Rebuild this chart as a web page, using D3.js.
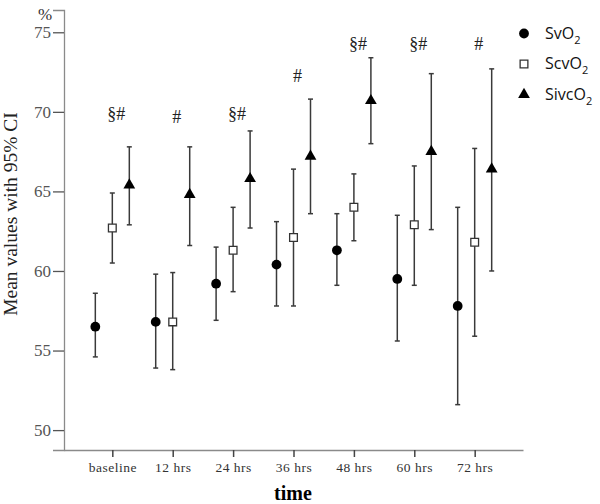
<!DOCTYPE html>
<html>
<head>
<meta charset="utf-8">
<script src="https://cdn.jsdelivr.net/npm/d3@7"></script>
<style>
  body { margin: 0; background: #fff; }
  svg { display: block; }
</style>
</head>
<body>
<svg width="600" height="504"></svg>
<script>
// time points on the x axis
var times = ["baseline", "12 hrs", "24 hrs", "36 hrs", "48 hrs", "60 hrs", "72 hrs"];

// means and 95% CI bounds
var svo2     = [56.5, 56.8, 59.2, 60.4, 61.3, 59.5, 57.8];
var svo2Lo   = [54.6, 53.9, 56.9, 57.8, 59.1, 55.6, 51.6];
var svo2Hi   = [58.6, 59.8, 61.5, 63.1, 63.6, 63.5, 64.0];

var scvo2    = [62.7, 56.8, 61.3, 62.1, 64.0, 62.9, 61.8];
var scvo2Lo  = [60.5, 53.8, 58.7, 57.8, 61.9, 59.1, 55.9];
var scvo2Hi  = [64.9, 59.9, 64.0, 66.4, 66.1, 66.6, 67.7];

var sivco2   = [65.4, 64.8, 65.8, 67.2, 70.7, 67.5, 66.4];
var sivco2Lo = [62.9, 61.6, 62.7, 63.6, 68.0, 62.6, 60.0];
var sivco2Hi = [67.8, 67.8, 68.8, 70.8, 73.4, 72.4, 72.7];

// significance marks above each group, and the level they sit at
var marks     = ["§#", "#", "§#", "#", "§#", "§#", "#"];
var markLevel = [69.9, 69.7, 69.9, 72.3, 74.3, 74.3, 74.3];

var yTicks = [50, 55, 60, 65, 70, 75];

var series = [
    {name: "SvO", mean: svo2, lo: svo2Lo, hi: svo2Hi, shape: "circle"},
    {name: "ScvO", mean: scvo2, lo: scvo2Lo, hi: scvo2Hi, shape: "square"},
    {name: "SivcO", mean: sivco2, lo: sivco2Lo, hi: sivco2Hi, shape: "triangle"}
];

var svg = d3.select("svg");

var x = d3.scalePoint()
    .domain(times)
    .range([64, 523])
    .padding(0.8);

var inner = d3.scalePoint()
    .domain(series.map(function(s) { return s.name; }))
    .range([-17, 17]);

var y = d3.scaleLinear()
    .domain([48.75, 76.4])
    .range([450, 10]);

var serif = "'Liberation Serif', 'Times New Roman', serif";
var axisColor = "#8a8a8a";

// y axis
var yAxis = svg.append("g")
    .attr("transform", "translate(64,0)")
    .call(d3.axisLeft(y).tickValues(yTicks).tickSize(11).tickPadding(2).tickFormat(d3.format("d")));
yAxis.select(".domain").attr("stroke", axisColor).attr("stroke-width", 1.3);
yAxis.selectAll(".tick line").attr("stroke", "#555").attr("stroke-width", 1.3);
yAxis.selectAll(".tick text")
    .attr("fill", "#555")
    .style("font-family", serif)
    .style("font-size", "17px");

// x axis
var xAxis = svg.append("g")
    .attr("transform", "translate(0,450)")
    .call(d3.axisBottom(x).tickSize(7).tickPadding(5).tickSizeOuter(0));
xAxis.select(".domain").attr("stroke", axisColor).attr("stroke-width", 1.3);
xAxis.selectAll(".tick line").attr("stroke", "#444").attr("stroke-width", 1.5);
xAxis.selectAll(".tick text")
    .attr("fill", "#333")
    .style("font-family", serif)
    .style("font-size", "13.5px")
    .style("letter-spacing", "0.5px");

// axis titles
svg.append("text")
    .attr("x", 293)
    .attr("y", 500)
    .attr("text-anchor", "middle")
    .style("font-family", serif)
    .style("font-size", "20px")
    .style("font-weight", "bold")
    .text("time");

svg.append("text")
    .attr("transform", "translate(17,214)rotate(-90)")
    .attr("text-anchor", "middle")
    .style("font-family", serif)
    .style("font-size", "19.5px")
    .attr("fill", "#222")
    .text("Mean values with 95% CI");

svg.append("text")
    .attr("x", 45)
    .attr("y", 20)
    .attr("text-anchor", "middle")
    .style("font-family", serif)
    .style("font-size", "17px")
    .attr("fill", "#333")
    .text("%");

// error bars and markers
var sym = {
    circle: d3.symbol().type(d3.symbolCircle).size(75),
    square: d3.symbol().type(d3.symbolSquare).size(60),
    triangle: d3.symbol().type(d3.symbolTriangle).size(60)
};

series.forEach(function(s) {
    var g = svg.append("g");
    var pts = times.map(function(t, i) {
        return {x: x(t) + inner(s.name), m: s.mean[i], lo: s.lo[i], hi: s.hi[i]};
    });

    g.selectAll(".bar")
        .data(pts)
        .enter().append("line")
        .attr("x1", function(d) { return d.x; })
        .attr("x2", function(d) { return d.x; })
        .attr("y1", function(d) { return y(d.lo); })
        .attr("y2", function(d) { return y(d.hi); })
        .attr("stroke", "#3a3a3a")
        .attr("stroke-width", 1.5);

    ["lo", "hi"].forEach(function(k) {
        g.selectAll(".cap-" + k)
            .data(pts)
            .enter().append("line")
            .attr("x1", function(d) { return d.x - 2.5; })
            .attr("x2", function(d) { return d.x + 2.5; })
            .attr("y1", function(d) { return y(d[k]); })
            .attr("y2", function(d) { return y(d[k]); })
            .attr("stroke", "#3a3a3a")
            .attr("stroke-width", 1.5);
    });

    g.selectAll(".pt")
        .data(pts)
        .enter().append("path")
        .attr("transform", function(d) { return "translate(" + d.x + "," + y(d.m) + ")"; })
        .attr("d", sym[s.shape])
        .attr("fill", s.shape === "square" ? "#fff" : "#000")
        .attr("stroke", s.shape === "square" ? "#333" : "none")
        .attr("stroke-width", 1.3);
});

// significance marks
svg.append("g")
    .selectAll("text")
    .data(marks)
    .enter().append("text")
    .attr("x", function(d, i) { return x(times[i]) + 4; })
    .attr("y", function(d, i) { return y(markLevel[i]); })
    .attr("dy", "0.35em")
    .attr("text-anchor", "middle")
    .style("font-family", serif)
    .style("font-size", "18px")
    .attr("fill", "#222")
    .text(function(d) { return d; });

// legend
var legend = svg.append("g")
    .selectAll("g")
    .data(series)
    .enter().append("g")
    .attr("transform", function(d, i) { return "translate(524," + (33.5 + i * 30.5) + ")"; });

legend.append("path")
    .attr("d", function(d) { return sym[d.shape](); })
    .attr("fill", function(d) { return d.shape === "square" ? "#fff" : "#000"; })
    .attr("stroke", function(d) { return d.shape === "square" ? "#333" : "none"; })
    .attr("stroke-width", 1.3);

var lt = legend.append("text")
    .attr("x", 21)
    .attr("y", 5)
    .style("font-family", "'Open Sans', sans-serif")
    .style("font-size", "16px")
    .attr("fill", "#111");
lt.append("tspan").text(function(d) { return d.name; });
lt.append("tspan").attr("dy", 5).style("font-size", "11px").text("2");
</script>
</body>
</html>
